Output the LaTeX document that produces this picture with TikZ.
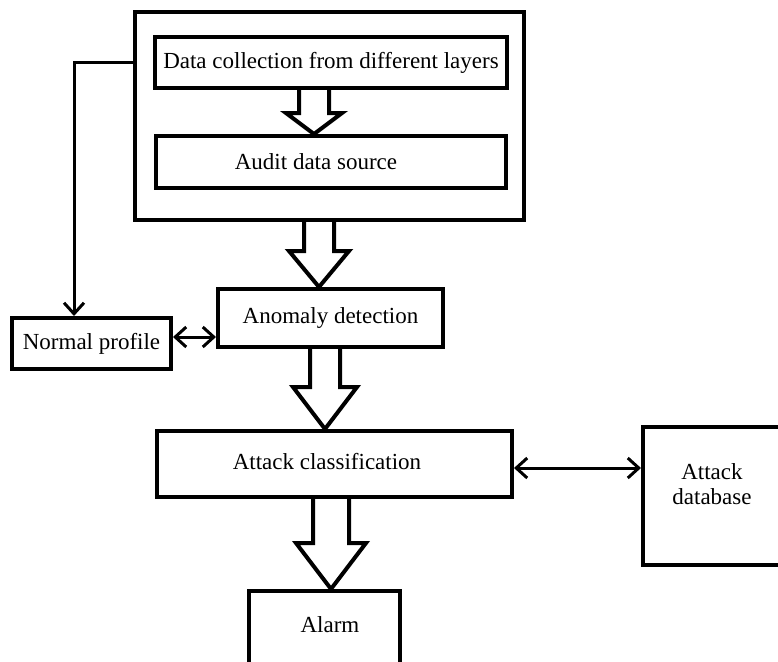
\documentclass[tikz,border=0pt]{standalone}
\usepackage{fontspec}
\setmainfont{Liberation Serif}
\usetikzlibrary{arrows.meta,calc,positioning}
%
\tikzset{
  box/.style={draw, rectangle, line width=2pt, inner sep=0pt,
    font=\fontsize{11.5}{13}\selectfont},
  txt/.style={inner sep=0pt, align=center,
    font=\fontsize{11.5}{12.5}\selectfont},
  link/.style={line width=1.5pt,
    -{Straight Barb[length=5.5pt,width=10pt,line width=1.5pt]}},
  twolink/.style={link,
    {Straight Barb[length=5.5pt,width=10pt,line width=1.5pt]}-{Straight Barb[length=5.5pt,width=10pt,line width=1.5pt]}},
  blockarrow/.style={line width=2pt, line join=miter},
}
% #1 tip coordinate, #2 half shaft, #3 half head, #4 head length, #5 from, #6 to
\newcommand{\BlockArrow}[6]{%
  \draw[blockarrow] ($(#1 |- #5.south)+(-#2,0)$)
    -- ($(#1 |- #6.north)+(-#2,-#4)$) -- ($(#1 |- #6.north)+(-#3,-#4)$)
    -- (#1 |- #6.north)
    -- ($(#1 |- #6.north)+(#3,-#4)$) -- ($(#1 |- #6.north)+(#2,-#4)$)
    -- ($(#1 |- #5.south)+(#2,0)$);
}
\begin{document}
\begin{tikzpicture}[x=0.5pt,y=-0.5pt]
%
\useasboundingbox (0,0) rectangle (778,661);
%
\node[box, minimum width=194.5pt, minimum height=104pt] (outer) at (329.5,116) {};
\node[box, minimum width=176pt, minimum height=25.5pt] (dc) at (331,62.5) {Data collection from different layers};
\node[box, minimum width=175pt, minimum height=26pt] (ads) at (331,162) {};
\node[txt] (adstext) at (316,162) {Audit data source};
\node[box, minimum width=112.5pt, minimum height=29pt] (anom) at (330.5,318) {Anomaly detection};
\node[box, minimum width=79.5pt, minimum height=25.5pt] (np) at (91.5,343.5) {Normal profile};
\node[box, minimum width=177.5pt, minimum height=33pt] (ac) at (334.5,464) {};
\node[txt] (actext) at (327,462) {Attack classification};
\node[box, minimum width=73.5pt, minimum height=69pt] (adb) at (716.5,496) {};
\node[txt] (adbtext) at (712,484) {Attack\\database};
\node[box, minimum width=75.5pt, minimum height=49pt] (alarm) at (324.5,640) {};
\node[txt] (alarmtext) at (330,625) {Alarm};
%
\coordinate (a1) at (314,0);
\coordinate (a2) at (319,0);
\coordinate (a3) at (325,0);
\coordinate (a4) at (331,0);
\BlockArrow{a1}{15}{28}{21}{dc}{ads}
\BlockArrow{a2}{15}{30}{36}{outer}{anom}
\BlockArrow{a3}{15}{32}{42}{anom}{ac}
\BlockArrow{a4}{18}{35}{46}{ac}{alarm}
%
\coordinate (bend) at (74,62);
\draw[link] (outer.west |- bend) -- (bend) -- (bend |- np.north);
\draw[twolink] ([yshift=3.25pt]np.east) -- ([yshift=3.25pt]np.east -| anom.west);
\draw[twolink] ([yshift=-2pt]ac.east) -- ([yshift=-2pt]ac.east -| adb.west);
%
\end{tikzpicture}
\end{document}
